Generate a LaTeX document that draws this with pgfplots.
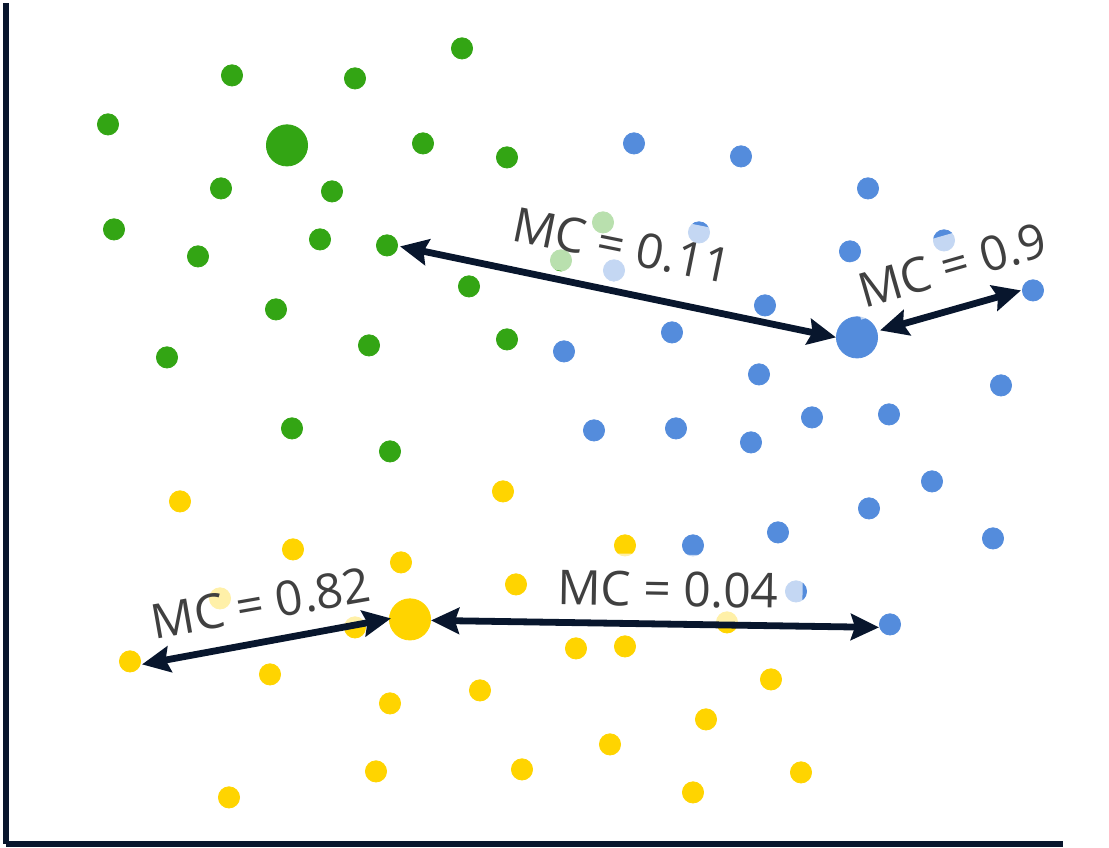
\documentclass[border=0pt]{standalone}
\usepackage{fontspec}
\setmainfont{Open Sans}
\usepackage{pgfplots}
\pgfplotsset{compat=1.18}
\usetikzlibrary{arrows.meta}
\definecolor{dotgreen}{RGB}{51,165,20}
\definecolor{dotblue}{RGB}{84,140,220}
\definecolor{dotyellow}{RGB}{255,212,0}
\definecolor{navy}{RGB}{8,22,45}
\definecolor{txtgrey}{RGB}{64,64,64}

\tikzset{
    mcl/.style={fill=white, fill opacity=0.66, text opacity=1, text=txtgrey,
        font=\fontsize{24}{28}\selectfont, inner xsep=12pt, inner ysep=9pt,
        text height=17pt, text depth=1pt},
    mca/.style={navy, line width=3.4pt,
        {Stealth[length=14pt, width=13pt, inset=2pt]}-{Stealth[length=14pt, width=13pt, inset=2pt]}},
}

% point positions in pixels of the source picture, y measured downwards (negated)
\begin{document}
\begin{tikzpicture}
\begin{axis}[
    set layers,
    x=0.5pt, y=0.5pt,
    xmin=6, xmax=1063,
    ymin=-843.5, ymax=-3,
    axis lines*=left,
    axis line style={navy, line width=3.4pt},
    ticks=none,
    clip=false,
    dots/.style={only marks, mark=*, mark size=5.3pt, color=#1},
    centre/.style={only marks, mark=*, mark size=10.3pt, color=#1},
]
\path[use as bounding box] (axis cs:0,0) rectangle (axis cs:1109,-847);

% green cluster
\addplot[dots=dotgreen] coordinates {
    (462,-48) (232,-75) (355,-78) (108,-124) (423,-143) (507,-157)
    (221,-188) (332,-191) (114,-229) (320,-239) (198,-256) (387,-245)
    (469,-286) (276,-309) (167,-357) (369,-345) (507,-339) (292,-428)
    (390,-451) (603,-222) (561,-260)
};
% blue cluster
\addplot[dots=dotblue] coordinates {
    (634,-143) (741,-156) (868,-188) (699,-232) (850,-251) (944,-240)
    (614,-270) (1033,-290) (765,-305) (672,-332) (564,-351) (759,-374)
    (1001,-385) (594,-430) (676,-428) (751,-442) (812,-417) (889,-414)
    (932,-481) (869,-508) (778,-532) (693,-545) (993,-538) (796,-591)
    (890,-624)
};
% yellow cluster
\addplot[dots=dotyellow] coordinates {
    (180,-501) (503,-491) (293,-549) (401,-562) (625,-545) (516,-584)
    (220,-598) (355,-627) (130,-661) (576,-648) (625,-646) (727,-622)
    (270,-674) (390,-703) (480,-690) (706,-719) (771,-679) (610,-744)
    (376,-771) (522,-769) (229,-797) (693,-792) (801,-772)
};
% cluster centres
\addplot[centre=dotgreen] coordinates {(287,-145)};
\addplot[centre=dotblue] coordinates {(857,-337)};
\addplot[centre=dotyellow] coordinates {(410,-619)};

\begin{pgfonlayer}{axis foreground}
\node[mcl, rotate=-11.5] at (axis cs:622,-246) {MC = 0.11};
\node[mcl, rotate=16, inner xsep=3pt, inner ysep=5pt, text height=19pt, text depth=0pt] at (axis cs:952,-263) {MC = 0.9};
\node[mcl, rotate=10, inner xsep=6pt] at (axis cs:261,-604) {MC = 0.82};
\node[mcl, rotate=-1] at (axis cs:668,-590) {MC = 0.04};

\draw[mca] (axis cs:400,-246) -- (axis cs:836,-337);
\draw[mca] (axis cs:880,-330) -- (axis cs:1021,-290);
\draw[mca] (axis cs:142,-664) -- (axis cs:391,-618);
\draw[mca] (axis cs:431,-620) -- (axis cs:879,-627);
\end{pgfonlayer}
\end{axis}
\end{tikzpicture}
\end{document}
